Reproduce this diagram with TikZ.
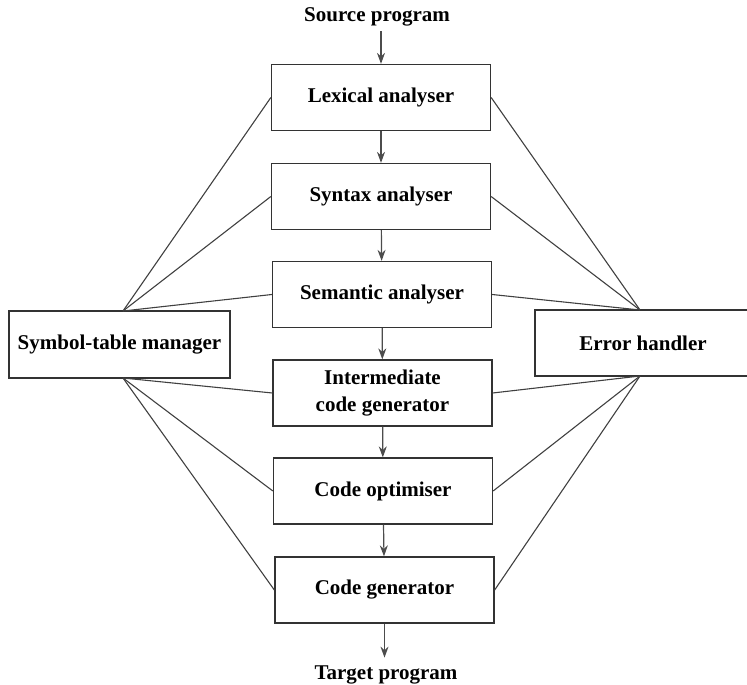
\documentclass[tikz,border=0pt]{standalone}
\usepackage{fontspec}
\setmainfont{Liberation Serif}
\usetikzlibrary{arrows.meta}

\tikzset{
  fase/.style={draw=black!80, line width=1.3pt, minimum width=219pt,
    minimum height=66pt, align=center, inner sep=0pt,
    font=\bfseries\fontsize{21}{27}\selectfont},
  label/.style={font=\bfseries\fontsize{21}{27}\selectfont, inner sep=2pt},
  stroom/.style={-{Stealth[length=11pt,width=8pt]}, draw=black!70, line width=1.2pt},
  lijn/.style={draw=black!75, line width=1.1pt}
}

\begin{document}
\begin{tikzpicture}[x=1pt, y=-1pt]

      \useasboundingbox (0,0) rectangle (747,685);

      % ============================================================
      % MIDDEN: fasen van de compiler
      % ============================================================

      \node[label] (src) at (377,17) {Source program};

      \node[fase] (lex)   at (381,97.5) {Lexical analyser};
      \node[fase] (syn)   at (381,196.5) {Syntax analyser};
      \node[fase] (sem)   at (382,294.5) {Semantic analyser};
      \node[fase] (inter) at (382.5,393) {Intermediate\\code generator};
      \node[fase] (opt)   at (383,491) {Code optimiser};
      \node[fase] (gen)   at (384.5,590) {Code generator};

      \node[label] (tgt) at (386,675) {Target program};

      % Pijlen omlaag
      \draw[stroom] ([yshift=-3pt]src.south -| lex.north) -- (lex.north);
      \draw[stroom] (lex) -- (syn);
      \draw[stroom] (syn) -- (sem);
      \draw[stroom] (sem) -- (inter);
      \draw[stroom] (inter) -- (opt);
      \draw[stroom] (opt) -- (gen);
      \draw[stroom] (gen.south) -- ([yshift=6pt]gen.south |- tgt.north);

      % ============================================================
      % LINKS: symbol-table manager
      % ============================================================

      \node[fase, minimum width=221pt, minimum height=67pt]
        (sym) at (119.5,344.5) {Symbol-table manager};
      \coordinate (symT) at (123,311);
      \coordinate (symB) at (123,378);

      \draw[lijn] (symT) -- (lex.west);
      \draw[lijn] (symT) -- (syn.west);
      \draw[lijn] (symT) -- (sem.west);
      \draw[lijn] (symB) -- (inter.west);
      \draw[lijn] (symB) -- (opt.west);
      \draw[lijn] (symB) -- (gen.west);

      % ============================================================
      % RECHTS: error handler
      % ============================================================

      \node[fase, minimum width=216pt] (err) at (643,343) {Error handler};
      \coordinate (errT) at (640,310);
      \coordinate (errB) at (640,376);

      \draw[lijn] (errT) -- (lex.east);
      \draw[lijn] (errT) -- (syn.east);
      \draw[lijn] (errT) -- (sem.east);
      \draw[lijn] (errB) -- (inter.east);
      \draw[lijn] (errB) -- (opt.east);
      \draw[lijn] (errB) -- (gen.east);

\end{tikzpicture}
\end{document}
